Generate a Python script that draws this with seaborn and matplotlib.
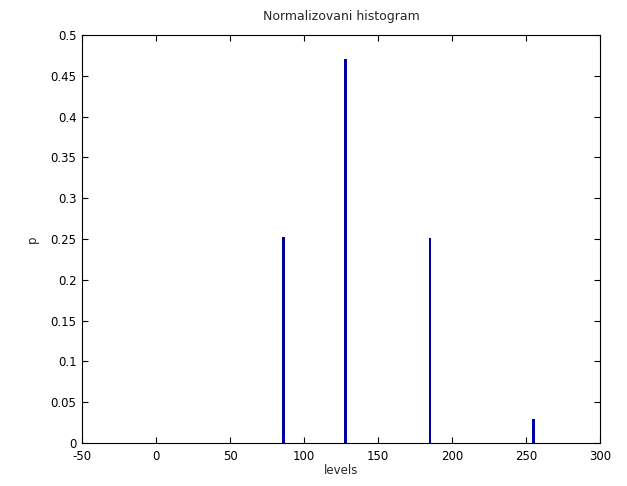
import numpy as np
import pandas as pd
import matplotlib
matplotlib.use('Agg')
import matplotlib.pyplot as plt
import seaborn as sns

# histogram data
levels = [86, 128, 185, 255]
p = [0.253, 0.470, 0.251, 0.029]

sns.set_style('white')
plt.rcParams['font.family'] = ['DejaVu Sans']
plt.rcParams['font.size'] = 8
plt.rcParams['axes.unicode_minus'] = False

df = pd.DataFrame({'levels': levels, 'p': p})

fig = plt.figure(figsize=(6.27, 4.86), dpi=100)
ax = fig.add_axes([0.1308, 0.0885, 0.8262, 0.8395])
sns.barplot(data=df, x='levels', y='p', native_scale=True, width=0.042,
            color='#0000a0', saturation=1, edgecolor='none', ax=ax)

ax.set_xlim(-50, 300)
ax.set_ylim(0, 0.5)
ax.set_xticks(np.arange(-50, 301, 50))
ax.set_yticks(np.arange(0, 0.51, 0.05))
ax.set_yticklabels(['0', '0.05', '0.1', '0.15', '0.2', '0.25', '0.3', '0.35', '0.4', '0.45', '0.5'])
ax.tick_params(direction='in', length=4, width=0.8, top=True, right=True,
               bottom=True, left=True, labelsize=8.5, colors='black', pad=4)
ax.tick_params(axis='x', pad=5)
for s in ax.spines.values():
    s.set_color('black')
    s.set_linewidth(0.8)
ax.set_xlabel('levels', fontsize=8.5, labelpad=1)
ax.set_ylabel('p', fontsize=8.5, labelpad=8)
ax.set_title('Normalizovani histogram', fontsize=9, pad=11)

fig.savefig('out.png', dpi=100)
